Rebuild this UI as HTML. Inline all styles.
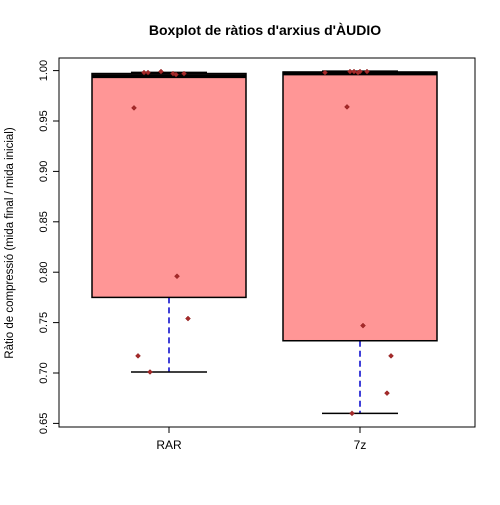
<!DOCTYPE html>
<html><head><meta charset="utf-8"><style>
body{margin:0;background:#fff}
svg text{font-family:"Liberation Sans",sans-serif}
</style></head><body>
<svg id="chart" width="500" height="500" viewBox="0 0 500 500">
<rect width="500" height="500" fill="#fff"/>
<text x="265" y="35" text-anchor="middle" font-size="14" font-weight="bold">Boxplot de ràtios d'arxius d'ÀUDIO</text>
<text transform="translate(13,243) rotate(-90)" text-anchor="middle" font-size="11.5">Ràtio de compressió (mida final / mida inicial)</text>
<g id="plot"></g>
</svg>
<script>
const categories=["RAR","7z"];
const lowWhisker=[0.701,0.660];
const q1=[0.775,0.732];
const medians=[0.9945,0.9972];
const q3=[0.9971,0.9986];
const highWhisker=[0.9983,0.9995];
const yTicks=[0.65,0.70,0.75,0.80,0.85,0.90,0.95,1.00];
const yTickLabels=["0.65","0.70","0.75","0.80","0.85","0.90","0.95","1.00"];
const pointsRAR=[0.963,0.796,0.754,0.717,0.701,0.998,0.998,0.999,0.997,0.996,0.997];
const jitterRAR=[-35,8,19,-31,-19,-25,-21,-8,4,7,15];
const points7z=[0.964,0.747,0.717,0.680,0.660,0.998,0.999,0.999,0.998,0.999,0.999];
const jitter7z=[-13,3,31,27,-8,-35,-10,-6,-2,0,7];
const ns="http://www.w3.org/2000/svg";
const g=document.getElementById('plot');
const X0=59,X1=475,Y0=58,Y1=427;
function y(v){return 373-(v-0.70)*1008;}
function x(i){return 169+i*191;}
function mk(t,a,p){const e=document.createElementNS(ns,t);for(const k in a)e.setAttribute(k,a[k]);(p||g).appendChild(e);return e;}
let frame=mk('rect',{x:X0,y:Y0,width:X1-X0,height:Y1-Y0,fill:'none',stroke:'#000'});


yTicks.forEach((v,i)=>{
  let t=mk('line',{x1:X0-6,x2:X0,y1:y(v),y2:y(v),stroke:'#000'});
  
  
  let l=mk('text',{transform:`translate(${X0-12},${y(v)}) rotate(-90)`,'text-anchor':'middle','font-size':'11'});
  l.textContent=yTickLabels[i];
  
  
});
categories.forEach((c,i)=>{
  const cx=x(i),hw=77;
  let t=mk('line',{x1:cx,x2:cx,y1:Y1,y2:Y1+6,stroke:'#000'});
  
  
  let l=mk('text',{x:cx,y:Y1+22,'text-anchor':'middle','font-size':'12'});
  l.textContent=c;
  
  
  let w=mk('line',{x1:cx,x2:cx,y1:y(q1[i]),y2:y(lowWhisker[i]),stroke:'#0000cc','stroke-width':1.5,'stroke-dasharray':'6,4'});
  
  
  let cap=mk('line',{x1:cx-38,x2:cx+38,y1:y(lowWhisker[i]),y2:y(lowWhisker[i]),stroke:'#000','stroke-width':1.5});
  
  
  let cap2=mk('line',{x1:cx-38,x2:cx+38,y1:y(highWhisker[i]),y2:y(highWhisker[i]),stroke:'#000','stroke-width':1.5});
  
  
  let b=mk('rect',{x:cx-hw,y:y(q3[i]),width:2*hw,height:y(q1[i])-y(q3[i]),fill:'#ff9696',stroke:'#000','stroke-width':1.5});
  
  
  let m=mk('line',{x1:cx-hw,x2:cx+hw,y1:y(medians[i]),y2:y(medians[i]),stroke:'#000','stroke-width':4});
  
  
});
[[pointsRAR,jitterRAR],[points7z,jitter7z]].forEach(([pts,jit],i)=>{
  pts.forEach((v,k)=>{
    const px=x(i)+jit[k],py=y(v);
    let d=mk('polygon',{points:`${px},${py-2.5} ${px+2.5},${py} ${px},${py+2.5} ${px-2.5},${py}`,fill:'#a52a2a',stroke:'#8b1a1a','stroke-width':0.5});
    
    
  });
});
</script>
</body></html>
